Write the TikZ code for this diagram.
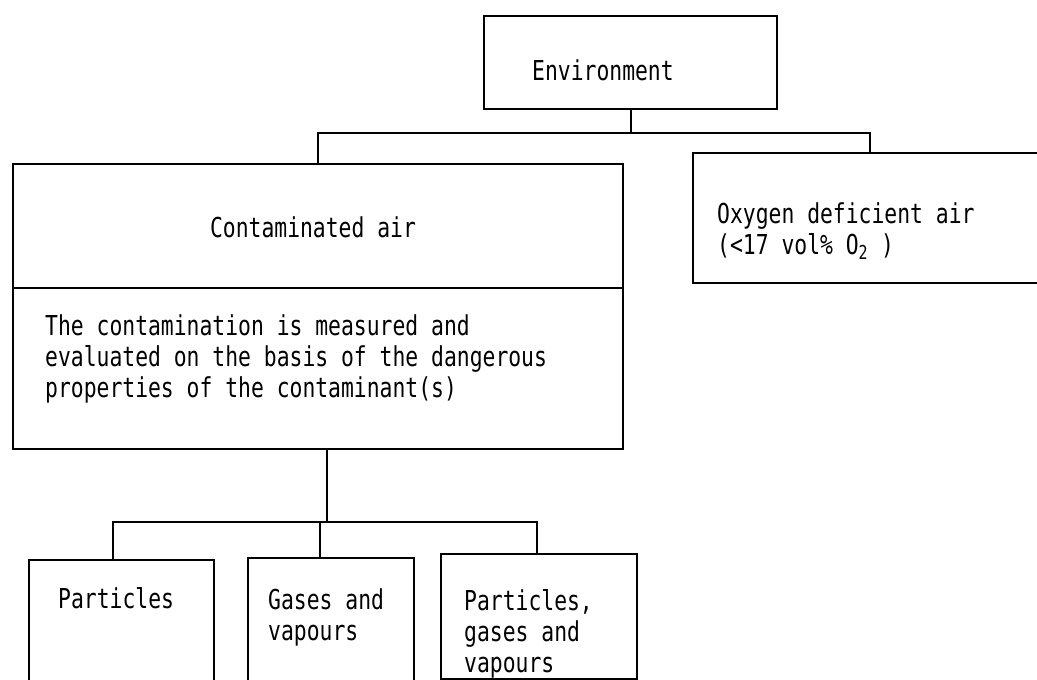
\documentclass[tikz,border=0pt]{standalone}
\usepackage{fontspec}
\newfontfamily\typew[FakeStretch=0.78]{DejaVu Sans Mono}
\begin{document}
\begin{tikzpicture}[x=1pt,y=-1pt,
  box/.style={draw, line width=2.2pt, inner sep=0pt, anchor=north west},
  txt/.style={inner sep=0pt, anchor=base west, align=left, font=\typew\fontsize{27.4}{31}\selectfont},
  conn/.style={line width=2pt}]
\useasboundingbox (0,0) rectangle (1037,680);
\clip (0,0) rectangle (1037,680);
% boxes
\node[box, minimum width=293pt, minimum height=93pt] (env) at (483,15) {};
\node[box, minimum width=610pt, minimum height=285pt] (cont) at (12,163) {};
\node[box, minimum width=353pt, minimum height=130pt] (oxy) at (692,152) {};
\node[box, minimum width=185pt, minimum height=140pt] (part) at (28,559) {};
\node[box, minimum width=166pt, minimum height=140pt] (gas) at (247,557) {};
\node[box, minimum width=196pt, minimum height=125pt] (pgv) at (440,553) {};
% divider in contaminated box
\coordinate (div) at (0,288);
\draw[conn] (cont.west |- div) -- (cont.east |- div);
% texts (base anchor = baseline of the last line)
\node[txt] (envt) at (532,80) {Environment};
\node[txt, anchor=base] (contt) at (313,237) {Contaminated air};
\node[txt] (desc) at (45,397) {The contamination is measured and\\evaluated on the basis of the dangerous\\properties of the contaminant(s)};
\node[txt] (oxyt) at (717,254) {Oxygen deficient air\\(<17 vol\% O\textsubscript{2} )};
\node[txt] (partt) at (58,608) {Particles};
\node[txt] (gast) at (268,640) {Gases and\\vapours};
\node[txt] (pgvt) at (464,672) {Particles,\\gases and\\vapours};
% connectors
\coordinate (b1) at (0,133);
\draw[conn] (env.south) -- (env.south |- b1);
\draw[conn] (cont.north) -- (cont.north |- b1) -- (oxy.north |- b1) -- (oxy.north);
\coordinate (stem) at (327,522);
\draw[conn] (stem |- cont.south) -- (stem);
\coordinate (d1) at (113,522);
\coordinate (d2) at (320,522);
\coordinate (d3) at (537,522);
\draw[conn] (d1 |- part.north) -- (d1) -- (d3) -- (d3 |- pgv.north);
\draw[conn] (d2) -- (d2 |- gas.north);
\end{tikzpicture}
\end{document}
